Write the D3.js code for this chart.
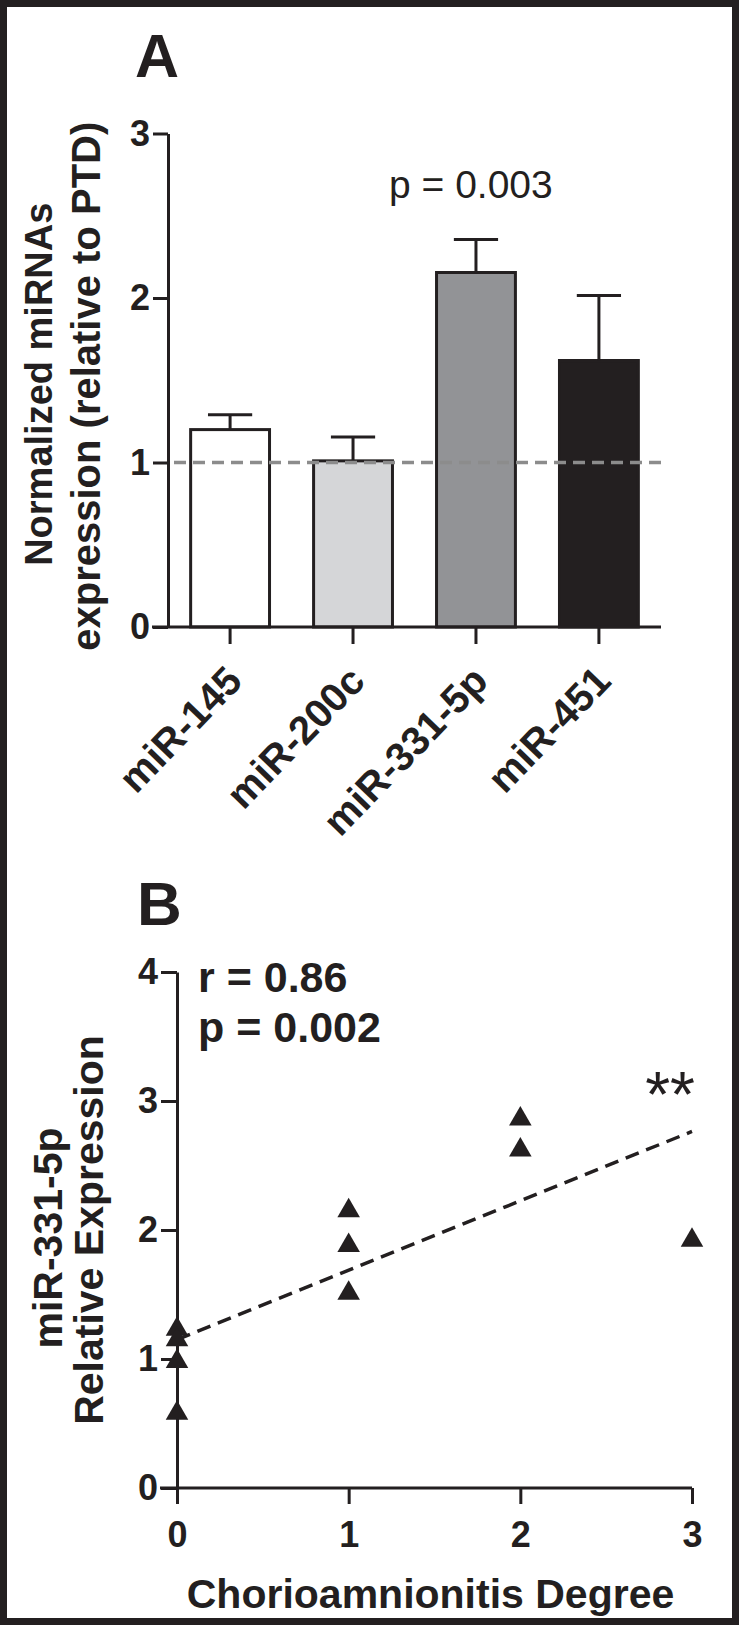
<!DOCTYPE html>
<html>
<head>
<meta charset="utf-8">
<script src="https://cdn.jsdelivr.net/npm/d3@7"></script>
<style>
  html, body { margin: 0; padding: 0; background: #fff; }
  svg { display: block; }
  text { font-family: "Liberation Sans", Arial, sans-serif; fill: #231f20; }
</style>
</head>
<body>
<div id="chart"></div>
<script>
// panel A: bar chart
const barCategories = ['miR-145', 'miR-200c', 'miR-331-5p', 'miR-451'];
const barMeans = [1.20, 1.01, 2.155, 1.62];
const barErrors = [0.09, 0.145, 0.20, 0.395];
const barTicks = [0, 1, 2, 3];
const barRefValue = 1;
const barNote = 'p = 0.003';

// panel B: scatter with regression
const degrees = [0, 0, 0, 0, 1, 1, 1, 2, 2, 3];
const expression = [1.23, 1.15, 0.98, 0.58, 2.15, 1.88, 1.51, 2.86, 2.62, 1.92];
const degreeTicks = [0, 1, 2, 3];
const exprTicks = [0, 1, 2, 3, 4];
const statLines = ['r = 0.86', 'p = 0.002'];

const barColors = d3.scaleOrdinal(barCategories, ['#ffffff', '#d5d6d8', '#929396', '#231f20']);
const ink = '#231f20';

const width = 739;
const height = 1625;

const svg = d3.select('#chart')
  .append('svg')
  .attr('width', width)
  .attr('height', height);

// outer frame
svg.append('rect')
  .attr('x', 3.5)
  .attr('y', 3.5)
  .attr('width', width - 7)
  .attr('height', height - 7)
  .attr('fill', 'none')
  .attr('stroke', ink)
  .attr('stroke-width', 7);

function styleAxis(g) {
  g.selectAll('line').attr('stroke', ink).attr('stroke-width', 3);
  g.selectAll('path').attr('stroke', ink).attr('stroke-width', 3);
  g.selectAll('text').attr('fill', ink).attr('font-weight', 'bold');
}

// ---------- panel A ----------
const xA = d3.scaleBand()
  .domain(barCategories)
  .range([168, 661])
  .paddingInner(0.334)
  .paddingOuter(0.172);

const yA = d3.scaleLinear()
  .domain([0, 3])
  .range([627, 133.5]);

const gA = svg.append('g');

gA.append('text')
  .attr('x', 135)
  .attr('y', 77)
  .attr('font-size', 61)
  .attr('font-weight', 'bold')
  .text('A');

const yAxisA = gA.append('g')
  .attr('transform', `translate(${xA.range()[0]},0)`)
  .call(d3.axisLeft(yA).tickValues(barTicks).tickFormat(d3.format('d')).tickSize(15).tickSizeOuter(0).tickPadding(3))
  .attr('font-size', 36);
styleAxis(yAxisA);

const bw = xA.bandwidth();

gA.append('g')
  .selectAll('rect')
  .data(barCategories)
  .join('rect')
  .attr('x', d => xA(d) + 1.5)
  .attr('y', (d, i) => yA(barMeans[i]))
  .attr('width', bw - 3)
  .attr('height', (d, i) => yA(0) - yA(barMeans[i]))
  .attr('fill', d => barColors(d))
  .attr('stroke', ink)
  .attr('stroke-width', 3);

const errA = gA.append('g')
  .attr('stroke', ink)
  .attr('stroke-width', 3);

errA.selectAll('line.stem')
  .data(barCategories)
  .join('line')
  .attr('class', 'stem')
  .attr('x1', d => xA(d) + bw / 2)
  .attr('x2', d => xA(d) + bw / 2)
  .attr('y1', (d, i) => yA(barMeans[i]))
  .attr('y2', (d, i) => yA(barMeans[i] + barErrors[i]));

errA.selectAll('line.cap')
  .data(barCategories)
  .join('line')
  .attr('class', 'cap')
  .attr('x1', d => xA(d) + bw / 2 - bw * 0.27)
  .attr('x2', d => xA(d) + bw / 2 + bw * 0.27)
  .attr('y1', (d, i) => yA(barMeans[i] + barErrors[i]))
  .attr('y2', (d, i) => yA(barMeans[i] + barErrors[i]));

// reference line at 1
gA.append('line')
  .attr('x1', xA.range()[0] + 6)
  .attr('x2', xA.range()[1])
  .attr('y1', yA(barRefValue))
  .attr('y2', yA(barRefValue))
  .attr('stroke', '#8c8c8c')
  .attr('stroke-width', 3.5)
  .attr('stroke-dasharray', '12,7');

const xAxisA = gA.append('g')
  .attr('transform', `translate(0,${yA(0)})`)
  .call(d3.axisBottom(xA).tickSize(17).tickSizeOuter(0))
  .attr('font-size', 40);
styleAxis(xAxisA);
xAxisA.select('.domain').remove();
xAxisA.append('line')
  .attr('x1', xA.range()[0] - 16)
  .attr('x2', xA.range()[1])
  .attr('stroke', ink)
  .attr('stroke-width', 3);
xAxisA.selectAll('.tick text')
  .attr('x', 0)
  .attr('y', 0)
  .attr('dy', 0)
  .attr('text-anchor', 'end')
  .attr('transform', 'translate(14,56) rotate(-46)');

gA.append('text')
  .attr('x', 389)
  .attr('y', 198)
  .attr('font-size', 39)
  .text(barNote);

gA.append('text')
  .attr('transform', `translate(52,${(yA(0) + yA(3)) / 2 + 4}) rotate(-90)`)
  .attr('text-anchor', 'middle')
  .attr('font-size', 38)
  .attr('font-weight', 'bold')
  .text('Normalized miRNAs');

gA.append('text')
  .attr('transform', `translate(100,${(yA(0) + yA(3)) / 2 + 6}) rotate(-90)`)
  .attr('text-anchor', 'middle')
  .attr('font-size', 40)
  .attr('font-weight', 'bold')
  .text('expression (relative to PTD)');

// ---------- panel B ----------
const xB = d3.scaleLinear()
  .domain([0, 3])
  .range([177, 692]);

const yB = d3.scaleLinear()
  .domain([0, 4])
  .range([1488, 972]);

const gB = svg.append('g');

gB.append('text')
  .attr('x', 137)
  .attr('y', 925)
  .attr('font-size', 62)
  .attr('font-weight', 'bold')
  .text('B');

const yAxisB = gB.append('g')
  .attr('transform', `translate(${xB(0)},0)`)
  .call(d3.axisLeft(yB).tickValues(exprTicks).tickFormat(d3.format('d')).tickSize(16).tickSizeOuter(0).tickPadding(3))
  .attr('font-size', 36);
styleAxis(yAxisB);

const xAxisB = gB.append('g')
  .attr('transform', `translate(0,${yB(0)})`)
  .call(d3.axisBottom(xB).tickValues(degreeTicks).tickFormat(d3.format('d')).tickSize(16).tickSizeOuter(0).tickPadding(17))
  .attr('font-size', 36);
styleAxis(xAxisB);
xAxisB.select('.domain').remove();
xAxisB.append('line')
  .attr('x1', xB(0) - 17)
  .attr('x2', xB(3))
  .attr('stroke', ink)
  .attr('stroke-width', 3);

// least squares fit
const points = degrees.map((d, i) => ({ x: d, y: expression[i] }));
const mx = d3.mean(points, p => p.x);
const my = d3.mean(points, p => p.y);
const slope = d3.sum(points, p => (p.x - mx) * (p.y - my)) / d3.sum(points, p => (p.x - mx) ** 2);
const intercept = my - slope * mx;
const [dMin, dMax] = d3.extent(degrees);

gB.append('line')
  .attr('x1', xB(dMin))
  .attr('y1', yB(intercept + slope * dMin))
  .attr('x2', xB(dMax))
  .attr('y2', yB(intercept + slope * dMax))
  .attr('stroke', ink)
  .attr('stroke-width', 3.5)
  .attr('stroke-dasharray', '14,8');

gB.append('g')
  .selectAll('path')
  .data(points)
  .join('path')
  .attr('transform', d => `translate(${xB(d.x)},${yB(d.y)})`)
  .attr('d', d3.symbol(d3.symbolTriangle, 220))
  .attr('fill', ink);

gB.append('g')
  .selectAll('text')
  .data(statLines)
  .join('text')
  .attr('x', 198)
  .attr('y', (d, i) => 992 + i * 50)
  .attr('font-size', 43)
  .attr('font-weight', 'bold')
  .text(d => d);

gB.append('text')
  .attr('x', 695)
  .attr('y', 1117)
  .attr('text-anchor', 'end')
  .attr('font-size', 64)
  .text('**');

gB.append('text')
  .attr('x', (xB(0) + xB(3)) / 2 - 4)
  .attr('y', 1608)
  .attr('text-anchor', 'middle')
  .attr('font-size', 41)
  .attr('font-weight', 'bold')
  .text('Chorioamnionitis Degree');

gB.append('text')
  .attr('transform', `translate(62,${(yB(0) + yB(4)) / 2 + 8}) rotate(-90)`)
  .attr('text-anchor', 'middle')
  .attr('font-size', 41)
  .attr('font-weight', 'bold')
  .text('miR-331-5p');

gB.append('text')
  .attr('transform', `translate(103,${(yB(0) + yB(4)) / 2}) rotate(-90)`)
  .attr('text-anchor', 'middle')
  .attr('font-size', 41)
  .attr('font-weight', 'bold')
  .text('Relative Expression');
</script>
</body>
</html>
